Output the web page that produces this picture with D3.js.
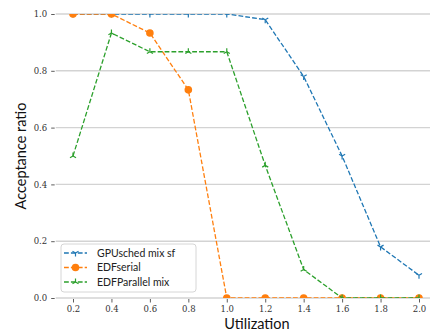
<!DOCTYPE html>
<html><head><meta charset="utf-8">
<script src="https://cdn.jsdelivr.net/npm/d3@7"></script>
<style>body{margin:0;background:#fff}svg{display:block}</style>
</head><body>
<script>
const utilization = [0.2,0.4,0.6,0.8,1.0,1.2,1.4,1.6,1.8,2.0];
const gpuschedMixSf = [1.0,1.0,1.0,1.0,1.0,0.98,0.78,0.5,0.18,0.08];
const edfSerial = [1.0,1.0,0.933,0.733,0,0,0,0,0,0];
const edfParallelMix = [0.5,0.933,0.867,0.867,0.867,0.467,0.1,0,0,0];
const xTicks = [0.2,0.4,0.6,0.8,1.0,1.2,1.4,1.6,1.8,2.0];
const yTicks = [0.0,0.2,0.4,0.6,0.8,1.0];
const seriesNames = ["GPUsched mix sf","EDFserial","EDFParallel mix"];
const colors = ["#1f77b4","#ff7f0e","#2ca02c"];
const markers = ["tri_down","circle","tri_up"];

const W=430,H=335;
const svg=d3.select("body").append("svg").attr("width",W).attr("height",H);
const x=d3.scaleLinear().domain([0.2,2.0]).range([73,419]);
const y=d3.scaleLinear().domain([0,1]).range([298,14]);
const left=55.7, right=436;

svg.append("defs").append("clipPath").attr("id","clip")
  .append("rect").attr("x",left).attr("y",14).attr("width",right-left).attr("height",284);

svg.append("g").selectAll("line").data(yTicks).join("line")
  .attr("x1",left).attr("x2",W).attr("y1",d=>y(d)).attr("y2",d=>y(d))
  .attr("stroke","#d3d3d3").attr("stroke-width",1.4);

const yAxis=d3.axisLeft(y).tickValues(yTicks).tickFormat(d3.format(".1f")).tickSize(3.5).tickPadding(4);
const gy=svg.append("g").attr("transform",`translate(${left-1},0)`).call(yAxis);
gy.select(".domain").remove();
gy.selectAll("line").attr("stroke","#333").attr("stroke-width",0.8);
gy.selectAll("text").attr("font-family","DejaVu Serif").attr("font-size",8.5).attr("fill","#333");

const xAxis=d3.axisBottom(x).tickValues(xTicks).tickFormat(d3.format(".1f")).tickSize(3.5).tickPadding(3);
const gx=svg.append("g").attr("transform",`translate(0,${y(0)+1})`).call(xAxis);
gx.select(".domain").remove();
gx.selectAll("line").attr("stroke","#333").attr("stroke-width",0.8);
gx.selectAll("text").attr("font-family","DejaVu Serif").attr("font-size",8.5).attr("fill","#333");

svg.append("text").attr("x",257).attr("y",329).attr("text-anchor","middle")
  .attr("font-family","Lato").attr("font-size",14.5).attr("fill","#111").text("Utilization");
svg.append("text").attr("transform","translate(26,156) rotate(-90)").attr("text-anchor","middle")
  .attr("font-family","Lato").attr("font-size",14.5).attr("fill","#111").text("Acceptance ratio");

const allSeries=[gpuschedMixSf,edfSerial,edfParallelMix];
const line=d3.line().x(d=>x(d[0])).y(d=>y(d[1]));

function drawMarker(g,type,cx,cy,color,s){
  if(type==="circle"){
    g.append("circle").attr("cx",cx).attr("cy",cy).attr("r",s*0.95).attr("fill",color);
  } else {
    const sgn = type==="tri_down"?1:-1;
    const r=s, a=Math.PI/6;
    const pts=[[0,sgn*r],[-r*Math.cos(a),-sgn*r*Math.sin(a)],[r*Math.cos(a),-sgn*r*Math.sin(a)]];
    pts.forEach(p=>g.append("line").attr("x1",cx).attr("y1",cy).attr("x2",cx+p[0]).attr("y2",cy+p[1])
      .attr("stroke",color).attr("stroke-width",1.2));
  }
}

const plot=svg.append("g").attr("clip-path","url(#clip)");
allSeries.forEach((vals,i)=>{
  const data=utilization.map((u,j)=>[u,vals[j]]);
  plot.append("path").datum(data).attr("d",line).attr("fill","none")
    .attr("stroke",colors[i]).attr("stroke-width",1.3).attr("stroke-dasharray","4.8,2.1");
  const mg=plot.append("g");
  data.forEach(d=>drawMarker(mg,markers[i],x(d[0]),y(d[1]),colors[i],markers[i]==="circle"?4:3.5));
});

const lg=svg.append("g");
lg.append("rect").attr("x",61).attr("y",244).attr("width",135).attr("height",48).attr("rx",3)
  .attr("fill","#fff").attr("fill-opacity",0.8).attr("stroke","#ccc").attr("stroke-width",0.8);
seriesNames.forEach((n,i)=>{
  const yy=253+i*14.5;
  lg.append("line").attr("x1",64).attr("x2",87).attr("y1",yy).attr("y2",yy)
    .attr("stroke",colors[i]).attr("stroke-width",1.3).attr("stroke-dasharray","4.8,2.1");
  drawMarker(lg,markers[i],75.5,yy,colors[i],markers[i]==="circle"?4:3.5);
  lg.append("text").attr("x",97).attr("y",yy+3.5).attr("font-family","Lato").attr("font-size",10.5)
    .attr("fill","#222").text(n);
});
</script>
</body></html>
